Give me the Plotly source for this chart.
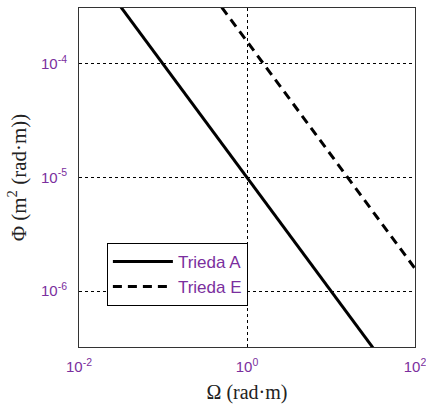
import plotly.graph_objects as go

omega = [0.01, 0.1, 1, 10, 100]
phi_A = [1e-3, 1e-4, 1e-5, 1e-6, 1e-7]
phi_E = [1.58e-2, 1.58e-3, 1.58e-4, 1.58e-5, 1.58e-6]
x_ticks = [0.01, 1, 100]
x_ticklabels = ["10<sup>-2</sup>", "10<sup>0</sup>", "10<sup>2</sup>"]
y_ticks = [1e-4, 1e-5, 1e-6]
y_ticklabels = ["10<sup>-4</sup>", "10<sup>-5</sup>", "10<sup>-6</sup>"]

purple = "#7b2f9e"
serif = "Liberation Serif, Times New Roman"

fig = go.Figure()
fig.add_trace(go.Scatter(x=omega, y=phi_A, mode="lines", name="Trieda A",
                         line=dict(color="black", width=3)))
fig.add_trace(go.Scatter(x=omega, y=phi_E, mode="lines", name="Trieda E",
                         line=dict(color="black", width=3, dash="9px,6px")))

fig.update_layout(
    width=426, height=407,
    margin=dict(l=79, r=11, t=8, b=60, autoexpand=False),
    paper_bgcolor="white", plot_bgcolor="white",
    font=dict(family="Arial, Liberation Sans", color=purple, size=15),
    legend=dict(x=0.083, y=0.307, xanchor="left", yanchor="top",
                bgcolor="white", bordercolor="black", borderwidth=1,
                font=dict(size=17, color=purple, family="Arial, Liberation Sans"),
                tracegroupgap=0, itemwidth=60),
    showlegend=True,
)
fig.update_xaxes(type="log", range=[-2, 2], tickvals=x_ticks, ticktext=x_ticklabels,
                 showline=True, mirror=True, linecolor="#333", linewidth=1,
                 showgrid=True, gridcolor="black", griddash="3px,3px", gridwidth=1,
                 ticks="", zeroline=False, tickfont=dict(size=15, color=purple),
                 ticklabelstandoff=6, automargin=False, ticklabeloverflow="allow",
                 title=dict(text="Ω (rad·m)", font=dict(family=serif, size=20, color="#222"), standoff=10))
fig.update_yaxes(type="log", range=[-6.493, -3.507], tickvals=y_ticks, ticktext=y_ticklabels,
                 showline=True, mirror=True, linecolor="#333", linewidth=1,
                 showgrid=True, gridcolor="black", griddash="3px,3px", gridwidth=1,
                 ticks="", zeroline=False, tickfont=dict(size=15, color=purple),
                 ticklabelstandoff=8, automargin=False,
                 title=dict(text="Φ (m<sup>2</sup> (rad·m))", font=dict(family=serif, size=21, color="#222"), standoff=8))

fig.write_html("out.html")
